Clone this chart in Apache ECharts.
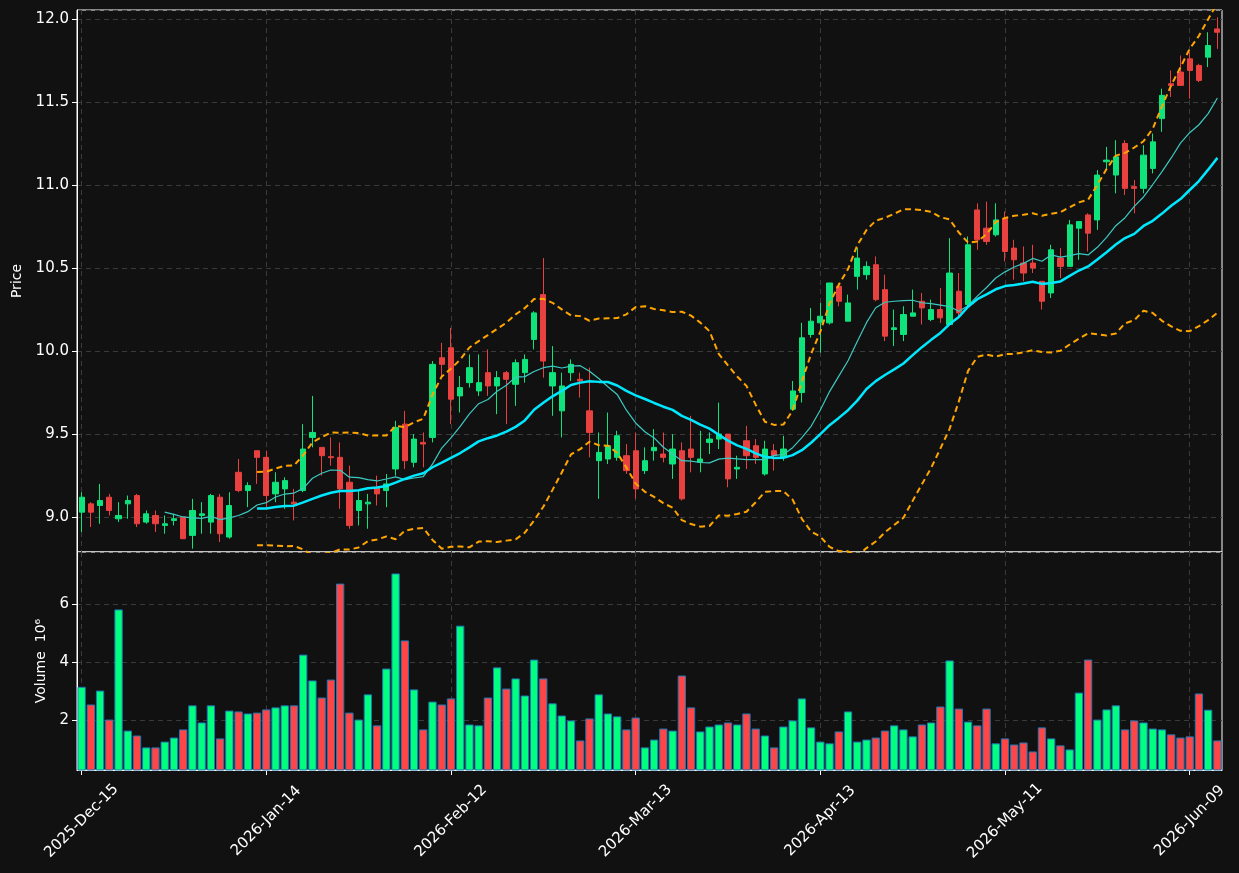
<!DOCTYPE html>
<html>
<head>
<meta charset="utf-8">
<script src="https://cdn.jsdelivr.net/npm/echarts@6/dist/echarts.min.js"></script>
<style>
  html, body { margin: 0; padding: 0; background: #111111; }
  #chart { width: 1239px; height: 873px; }
</style>
</head>
<body>
<div id="chart"></div>
<script>
// trading days, month by month
var tradingDays = [
  ['2025-Dec', [15, 16, 17, 18, 19, 22, 23, 24, 26, 29, 30, 31]],
  ['2026-Jan', [2, 5, 6, 7, 8, 9, 12, 13, 14, 15, 16, 20, 21, 22, 23, 26, 27, 28, 29, 30]],
  ['2026-Feb', [2, 3, 4, 5, 6, 9, 10, 11, 12, 13, 17, 18, 19, 20, 23, 24, 25, 26, 27]],
  ['2026-Mar', [2, 3, 4, 5, 6, 9, 10, 11, 12, 13, 16, 17, 18, 19, 20, 23, 24, 25, 26, 27, 30, 31]],
  ['2026-Apr', [1, 2, 6, 7, 8, 9, 10, 13, 14, 15, 16, 17, 20, 21, 22, 23, 24, 27, 28, 29, 30]],
  ['2026-May', [1, 4, 5, 6, 7, 8, 11, 12, 13, 14, 15, 18, 19, 20, 21, 22, 26, 27, 28, 29]],
  ['2026-Jun', [1, 2, 3, 4, 5, 8, 9, 10, 11, 12]]
];

var opens = [
  9.03, 9.08, 9.07, 9.12, 8.99, 9.08, 9.13, 8.97, 9.01, 8.95,
  8.98, 9.00, 8.89, 9.01, 8.97, 9.12, 8.88, 9.27, 9.16, 9.40,
  9.36, 9.14, 9.17, 9.09, 9.16, 9.48, 9.42, 9.364, 9.36, 9.21,
  9.04, 9.08, 9.18, 9.16, 9.29, 9.56, 9.33, 9.45, 9.48, 9.96,
  10.02, 9.73, 9.81, 9.76, 9.87, 9.79, 9.87, 9.80, 9.87, 10.07,
  10.34, 9.79, 9.64, 9.87, 9.83, 9.64, 9.34, 9.35, 9.36, 9.37,
  9.40, 9.28, 9.40, 9.38, 9.32, 9.40, 9.41, 9.33, 9.45, 9.47,
  9.50, 9.29, 9.46, 9.43, 9.26, 9.40, 9.36, 9.65, 9.75, 10.10,
  10.17, 10.17, 10.39, 10.18, 10.45, 10.46, 10.52, 10.37, 10.13, 10.10,
  10.21, 10.30, 10.19, 10.25, 10.16, 10.36, 10.28, 10.85, 10.74, 10.70,
  10.80, 10.62, 10.53, 10.53, 10.42, 10.35, 10.56, 10.51, 10.74, 10.82,
  10.79, 11.14, 11.06, 11.25, 10.99, 10.98, 11.10, 11.40, 11.61, 11.68,
  11.76, 11.72, 11.77, 11.94
];
var closes = [
  9.12, 9.03, 9.10, 9.04, 9.01, 9.10, 8.96, 9.02, 8.96, 8.96,
  8.99, 8.87, 9.04, 9.02, 9.13, 8.90, 9.07, 9.16, 9.19, 9.36,
  9.13, 9.21, 9.22, 9.08, 9.41, 9.51, 9.37, 9.358, 9.17, 8.95,
  9.10, 9.09, 9.14, 9.20, 9.54, 9.34, 9.47, 9.44, 9.92, 9.92,
  9.71, 9.78, 9.90, 9.81, 9.79, 9.84, 9.83, 9.93, 9.95, 10.23,
  9.94, 9.87, 9.79, 9.92, 9.82, 9.51, 9.39, 9.43, 9.49, 9.28,
  9.17, 9.34, 9.42, 9.36, 9.41, 9.11, 9.36, 9.35, 9.47, 9.50,
  9.23, 9.30, 9.37, 9.36, 9.41, 9.37, 9.41, 9.76, 10.08, 10.18,
  10.21, 10.41, 10.30, 10.29, 10.56, 10.51, 10.31, 10.09, 10.14, 10.22,
  10.23, 10.26, 10.25, 10.20, 10.47, 10.23, 10.64, 10.67, 10.66, 10.79,
  10.60, 10.55, 10.47, 10.50, 10.30, 10.61, 10.51, 10.76, 10.78, 10.71,
  11.06, 11.15, 11.17, 10.98, 10.98, 11.18, 11.26, 11.54, 11.60, 11.60,
  11.69, 11.63, 11.84, 11.92
];
var lows = [
  8.91, 8.94, 8.96, 9.01, 8.97, 8.99, 8.94, 8.96, 8.91, 8.90,
  8.95, 8.87, 8.81, 8.90, 8.90, 8.85, 8.87, 9.15, 9.06, 9.20,
  9.06, 9.09, 9.05, 8.98, 9.15, 9.42, 9.25, 9.31, 9.05, 8.93,
  8.95, 8.93, 9.07, 9.06, 9.25, 9.29, 9.30, 9.30, 9.45, 9.84,
  9.56, 9.63, 9.78, 9.73, 9.73, 9.62, 9.56, 9.67, 9.81, 10.01,
  9.84, 9.61, 9.48, 9.82, 9.72, 9.36, 9.11, 9.32, 9.34, 9.26,
  9.11, 9.26, 9.34, 9.33, 9.23, 9.10, 9.27, 9.27, 9.38, 9.41,
  9.18, 9.23, 9.29, 9.32, 9.25, 9.28, 9.34, 9.64, 9.69, 10.08,
  9.99, 10.16, 10.27, 10.18, 10.37, 10.43, 10.30, 10.06, 10.03, 10.06,
  10.21, 10.16, 10.18, 10.17, 10.16, 10.20, 10.26, 10.61, 10.64, 10.69,
  10.54, 10.43, 10.42, 10.47, 10.25, 10.32, 10.44, 10.51, 10.55, 10.60,
  10.73, 11.09, 10.95, 10.94, 10.83, 10.95, 11.07, 11.32, 11.53, 11.60,
  11.52, 11.62, 11.71, 11.82
];
var highs = [
  9.15, 9.09, 9.20, 9.14, 9.09, 9.13, 9.14, 9.04, 9.04, 9.01,
  9.02, 9.00, 9.11, 9.09, 9.14, 9.14, 9.15, 9.35, 9.21, 9.40,
  9.40, 9.27, 9.24, 9.17, 9.56, 9.73, 9.42, 9.48, 9.45, 9.31,
  9.16, 9.14, 9.25, 9.26, 9.58, 9.64, 9.50, 9.51, 9.94, 10.05,
  10.14, 9.85, 9.98, 9.98, 10.01, 9.88, 9.88, 9.95, 9.98, 10.24,
  10.56, 10.03, 9.87, 9.95, 9.87, 9.90, 9.51, 9.63, 9.52, 9.44,
  9.51, 9.42, 9.53, 9.51, 9.50, 9.45, 9.61, 9.52, 9.51, 9.69,
  9.50, 9.37, 9.55, 9.47, 9.46, 9.44, 9.49, 9.82, 10.17, 10.26,
  10.29, 10.41, 10.41, 10.34, 10.62, 10.54, 10.57, 10.46, 10.25, 10.27,
  10.37, 10.35, 10.31, 10.38, 10.68, 10.47, 10.69, 10.89, 10.90, 10.89,
  10.84, 10.67, 10.63, 10.64, 10.42, 10.64, 10.62, 10.79, 10.78, 10.83,
  11.09, 11.23, 11.27, 11.27, 11.03, 11.24, 11.31, 11.58, 11.69, 11.78,
  11.80, 11.73, 11.92, 12.01
];
// volume, in millions
var volumes = [
  3.15, 2.54, 3.02, 2.02, 5.82, 1.64, 1.47, 1.06, 1.06, 1.26,
  1.40, 1.68, 2.51, 1.92, 2.51, 1.37, 2.33, 2.30, 2.23, 2.26,
  2.37, 2.44, 2.51, 2.51, 4.26, 3.37, 2.78, 3.40, 6.71, 2.26,
  2.02, 2.89, 1.82, 3.78, 7.06, 4.75, 3.06, 1.68, 2.64, 2.54,
  2.75, 5.26, 1.85, 1.82, 2.78, 3.82, 3.09, 3.44, 2.85, 4.09,
  3.44, 2.58, 2.16, 1.99, 1.30, 2.06, 2.89, 2.23, 2.13, 1.68,
  2.09, 1.06, 1.33, 1.71, 1.64, 3.54, 2.44, 1.61, 1.78, 1.85,
  1.92, 1.85, 2.23, 1.71, 1.47, 1.06, 1.78, 1.99, 2.75, 1.75,
  1.26, 1.20, 1.61, 2.30, 1.26, 1.33, 1.40, 1.64, 1.82, 1.68,
  1.44, 1.85, 1.92, 2.47, 4.06, 2.40, 1.95, 1.82, 2.40, 1.20,
  1.37, 1.16, 1.23, 0.92, 1.75, 1.37, 1.13, 0.99, 2.95, 4.09,
  2.02, 2.37, 2.51, 1.68, 1.99, 1.92, 1.71, 1.68, 1.51, 1.40,
  1.44, 2.92, 2.36, 1.30
];

var upColor = '#0fe37b', downColor = '#e8413f';
var volUp = '#00ff7f', volDown = '#ff4545';

var dates = [];
tradingDays.forEach(function (m) {
  m[1].forEach(function (d) {
    dates.push(m[0] + '-' + (d < 10 ? '0' + d : d));
  });
});

// moving averages / bands derived from the closes
function sma(arr, n) {
  return arr.map(function (v, i) {
    if (i < n - 1) return null;
    var s = 0;
    for (var k = i - n + 1; k <= i; k++) s += arr[k];
    return s / n;
  });
}
function band(arr, n, mult) {
  var mid = sma(arr, n);
  return arr.map(function (v, i) {
    if (i < n - 1) return null;
    var s = 0;
    for (var k = i - n + 1; k <= i; k++) s += Math.pow(arr[k] - mid[i], 2);
    return mid[i] + mult * Math.sqrt(s / (n - 1));
  });
}
var ma10 = sma(closes, 10);
var ma20 = sma(closes, 20);
var bbUp = band(closes, 20, 2);
var bbLow = band(closes, 20, -2);

var candles = opens.map(function (o, i) { return [o, closes[i], lows[i], highs[i]]; });
var volBars = volumes.map(function (v, i) {
  return { value: v, itemStyle: { color: closes[i] >= opens[i] ? volUp : volDown } };
});

var every20 = function (idx) { return idx % 20 === 0; };
var font = 'DejaVu Sans';
var gridLine = { show: true, alignWithLabel: true, interval: every20,
  lineStyle: { color: '#3a3a3a', type: [5, 4], width: 1 } };

var chart = echarts.init(document.getElementById('chart'));
chart.setOption({
  animation: false,
  backgroundColor: '#111111',
  textStyle: { fontFamily: font },
  grid: [
    { left: 77, right: 17, top: 10, height: 542, show: true, backgroundColor: '#111111', borderColor: '#ffffff', borderWidth: 1 },
    { left: 77, right: 17, top: 552, height: 218, show: true, backgroundColor: '#111111', borderColor: '#ffffff', borderWidth: 1 }
  ],
  xAxis: [
    { type: 'category', gridIndex: 0, data: dates, boundaryGap: true,
      axisLine: { show: false }, axisTick: { show: false }, axisLabel: { show: false },
      splitLine: gridLine },
    { type: 'category', gridIndex: 1, data: dates, boundaryGap: true,
      axisLine: { show: true, lineStyle: { color: '#ffffff' } },
      axisTick: { show: true, alignWithLabel: true, interval: every20, length: 5, lineStyle: { color: '#ffffff' } },
      axisLabel: { show: true, interval: every20, rotate: 45, align: 'center', verticalAlign: 'middle',
        color: '#ffffff', fontSize: 15, fontFamily: font, margin: 51 },
      splitLine: gridLine }
  ],
  yAxis: [
    { type: 'value', gridIndex: 0, min: 8.79, max: 12.054, splitNumber: 6, scale: true,
      name: 'Price', nameLocation: 'middle', nameGap: 50, nameRotate: 90,
      nameTextStyle: { color: '#ffffff', fontSize: 14, fontFamily: font },
      axisLine: { show: true, lineStyle: { color: '#ffffff' } },
      axisTick: { show: true, length: 5, lineStyle: { color: '#ffffff' } },
      axisLabel: { color: '#ffffff', fontSize: 15, fontFamily: font, margin: 8, showMinLabel: false, showMaxLabel: false,
        formatter: function (v) { return v.toFixed(1); } },
      splitLine: { show: true, lineStyle: { color: '#3a3a3a', type: [5, 4], width: 1 } } },
    { type: 'value', gridIndex: 1, min: 0.28, max: 7.8, splitNumber: 4,
      name: 'Volume  10\u2076', nameLocation: 'middle', nameGap: 29, nameRotate: 90,
      nameTextStyle: { color: '#ffffff', fontSize: 14, fontFamily: font },
      axisLine: { show: true, lineStyle: { color: '#ffffff' } },
      axisTick: { show: true, length: 5, lineStyle: { color: '#ffffff' } },
      axisLabel: { color: '#ffffff', fontSize: 15, fontFamily: font, margin: 8, showMinLabel: false, showMaxLabel: false },
      splitLine: { show: true, lineStyle: { color: '#3a3a3a', type: [5, 4], width: 1 } } }
  ],
  series: [
    { name: 'OHLC', type: 'candlestick', xAxisIndex: 0, yAxisIndex: 0, data: candles, barWidth: '62%',
      itemStyle: { color: upColor, color0: downColor, borderColor: upColor, borderColor0: downColor, borderWidth: 1 } },
    { name: 'MA10', type: 'line', xAxisIndex: 0, yAxisIndex: 0, data: ma10, showSymbol: false, smooth: false,
      lineStyle: { color: '#3cc9c2', width: 1.2 }, z: 3 },
    { name: 'MA20', type: 'line', xAxisIndex: 0, yAxisIndex: 0, data: ma20, showSymbol: false,
      lineStyle: { color: '#00e8ff', width: 2.5 }, z: 4 },
    { name: 'BB upper', type: 'line', xAxisIndex: 0, yAxisIndex: 0, data: bbUp, showSymbol: false,
      lineStyle: { color: '#ffa500', width: 2, type: [6, 4] }, z: 4 },
    { name: 'BB lower', type: 'line', xAxisIndex: 0, yAxisIndex: 0, data: bbLow, showSymbol: false,
      lineStyle: { color: '#ffa500', width: 2, type: [6, 4] }, z: 4 },
    { name: 'Volume', type: 'bar', xAxisIndex: 1, yAxisIndex: 1, data: volBars, barWidth: '90%',
      itemStyle: { borderColor: '#1f77b4', borderWidth: 1 } }
  ]
});
</script>
</body>
</html>
